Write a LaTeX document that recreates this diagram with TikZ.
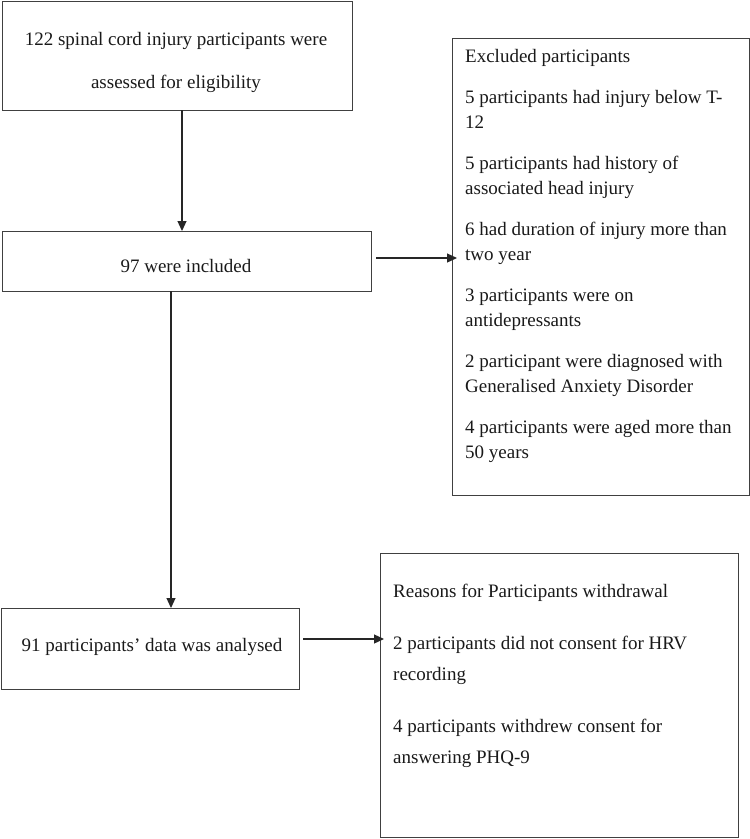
\documentclass[tikz,border=0pt]{standalone}
\usepackage{fontspec}
\setmainfont{Liberation Serif}
\usetikzlibrary{arrows.meta}
\begin{document}
\begin{tikzpicture}[x=1pt,y=-1pt,
  box/.style={draw=black!75,line width=1pt,inner sep=0pt,outer sep=0pt},
  txt/.style={inner sep=0pt,font=\fontsize{19}{25}\selectfont,text=black!90},
  arr/.style={-{Triangle[length=10pt,width=9pt]},line width=1.2pt,draw=black!85}]
\useasboundingbox (0,0) rectangle (750,839);
\node[box,minimum width=350pt,minimum height=109pt] (screen) at (177,55.5) {};
\node[box,minimum width=369pt,minimum height=60pt] (incl) at (186.5,261) {};
\node[box,minimum width=297pt,minimum height=457pt] (excl) at (600.5,266.5) {};
\node[box,minimum width=298pt,minimum height=81pt] (anal) at (150,648.5) {};
\node[box,minimum width=358pt,minimum height=284pt] (withd) at (559,695) {};
\node[txt,align=center,anchor=base] (screentxt) at (176,88)
  {122 spinal cord injury participants were\\[18pt] assessed for eligibility};
\node[txt,anchor=base] (incltxt) at (186,272) {97 were included};
\node[txt,align=left,anchor=base west] (excltxt) at (465,458)
  {Excluded participants\\[16pt]
   5 participants had injury below T-\\ 12\\[16pt]
   5 participants had history of\\ associated head injury\\[16pt]
   6 had duration of injury more than\\ two year\\[16pt]
   3 participants were on\\ antidepressants\\[16pt]
   2 participant were diagnosed with\\ Generalised Anxiety Disorder\\[16pt]
   4 participants were aged more than\\ 50 years};
\node[txt,anchor=base] (analtxt) at (152,651) {91 participants' data was analysed};
\node[txt,align=left,anchor=base west,font=\fontsize{19}{31}\selectfont] (withdtxt) at (393,763)
  {Reasons for Participants withdrawal\\[21pt]
   2 participants did not consent for HRV\\ recording\\[21pt]
   4 participants withdrew consent for\\ answering PHQ-9};
\draw[arr] ([xshift=5pt]screen.south) -- ([xshift=-4.5pt]incl.north);
\draw[arr] ([xshift=5pt,yshift=3pt]incl.east) -- ([xshift=5pt,yshift=3pt]incl.east -| excl.west);
\draw[arr] ([xshift=-15.5pt]incl.south) -- ([xshift=-15.5pt]incl.south |- anal.north);
\draw[arr] ([xshift=4pt,yshift=9.5pt]anal.east) -- ([xshift=4pt,yshift=9.5pt]anal.east -| withd.west);
\end{tikzpicture}
\end{document}
